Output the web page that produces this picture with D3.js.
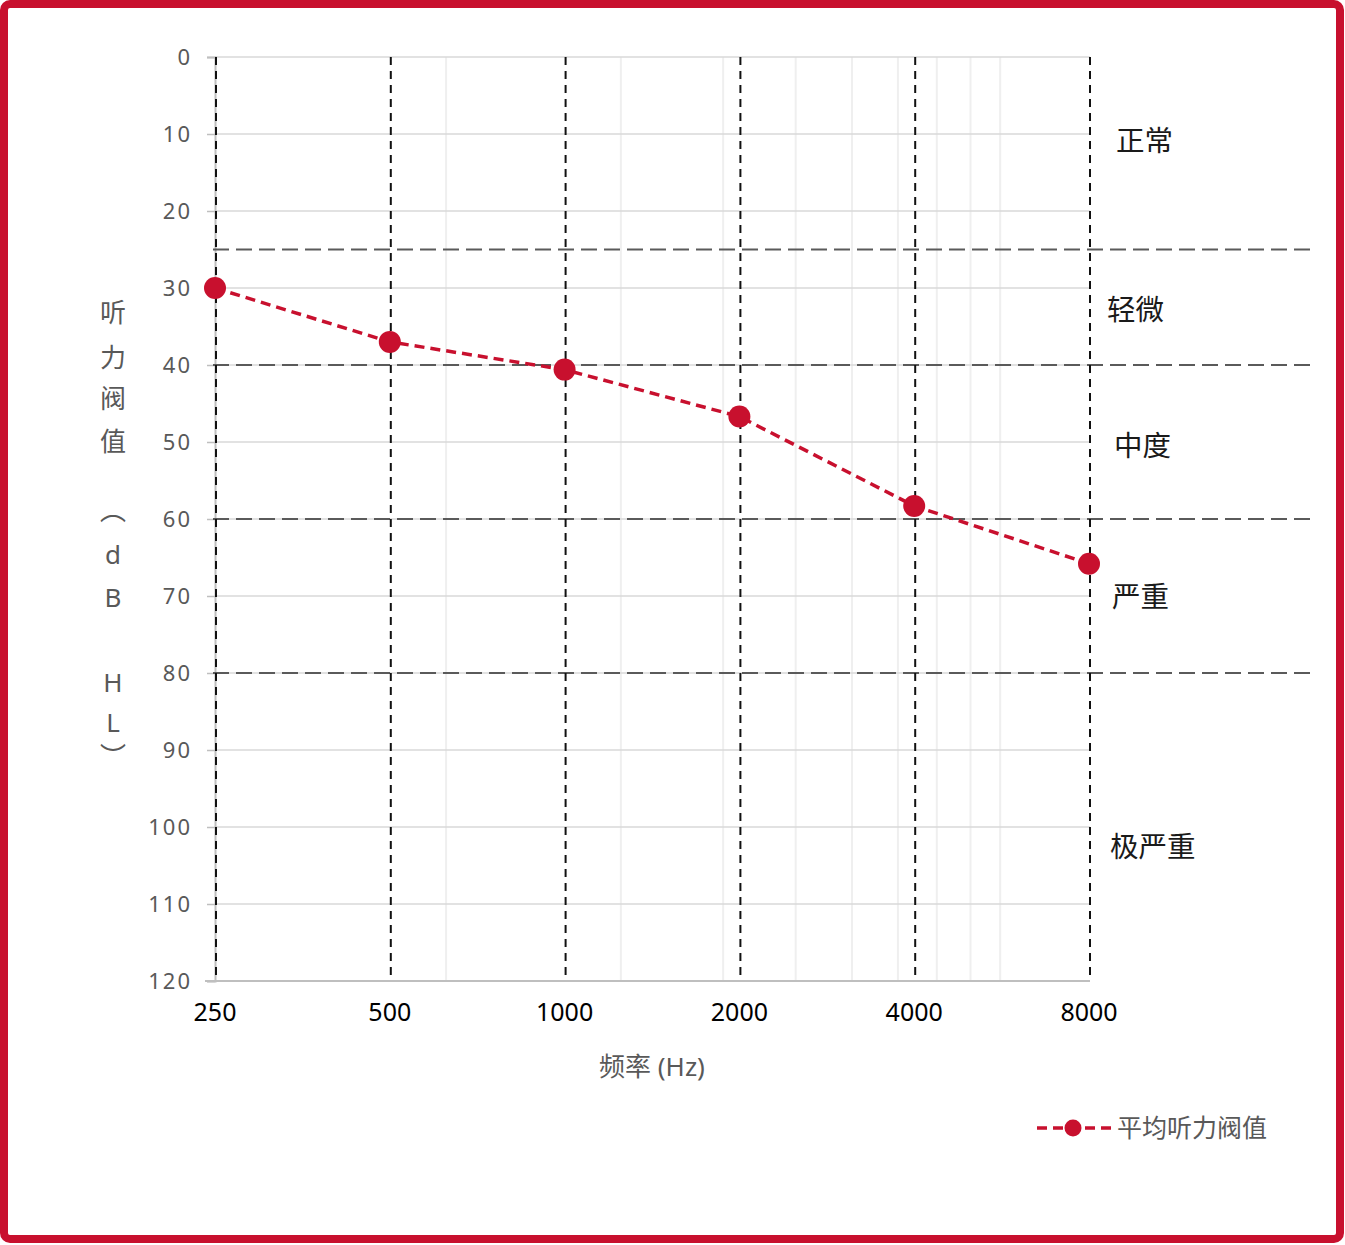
<!DOCTYPE html>
<html>
<head>
<meta charset="utf-8">
<script src="https://cdn.jsdelivr.net/npm/d3@7"></script>
<style>
  body{margin:0;background:#fff;}
  text{font-family:"Noto Sans","Noto Sans CJK SC",sans-serif;}
</style>
</head>
<body>
<div id="container"></div>
<script>
let w=1345;
let h=1245;

// data
let freqs=[250,500,1000,2000,4000,8000];
let freqLabels=["250","500","1000","2000","4000","8000"];
let thresholds=[30,37,40.6,46.7,58.3,65.8];
let yTicks=[0,10,20,30,40,50,60,70,80,90,100,110,120];
let minorFreqs=[625,1250,1875,2500,3125,3750,4375,5000,5625];
let bandLines=[25,40,60,80];
let bandNames=["正常","轻微","中度","严重","极严重"];
let bandLabelDb=[10.9,32.8,50.5,70.1,102.6];
let bandLabelX=[1116,1107,1114,1112,1110];
let yTitleChars=["听","力","阀","值","︵","d","B","H","L","︶"];
let yTitleDb=[33.2,39,44.4,49.9,58.9,64.6,70.2,81.2,86.5,90.8];
let seriesName="平均听力阀值";

let red="#c8102e";

let x=d3.scaleLog().base(2).domain([250,8000]).range([215,1089]);
let y=d3.scaleLinear().domain([0,120]).range([57,981]);

let viz=d3.select("#container")
  .append("svg")
  .attr("width",w)
  .attr("height",h);

// frame
viz.append("rect")
  .attr("x",4).attr("y",4)
  .attr("width",w-9).attr("height",h-10)
  .attr("rx",6)
  .attr("fill","white")
  .attr("stroke",red)
  .attr("stroke-width",8);

// minor vertical grid
viz.selectAll(".minor").data(minorFreqs).enter()
  .append("line")
  .attr("class","minor")
  .attr("x1",d=>x(d)).attr("x2",d=>x(d))
  .attr("y1",y(0)).attr("y2",y(120))
  .attr("stroke","#efefef")
  .attr("stroke-width",2);

// horizontal grid
viz.selectAll(".hgrid").data(yTicks).enter()
  .append("line")
  .attr("class","hgrid")
  .attr("x1",215).attr("x2",1090)
  .attr("y1",d=>y(d)).attr("y2",d=>y(d))
  .attr("stroke","#d9d9d9")
  .attr("stroke-width",1.5);

// y axis
let yAxis=d3.axisLeft(y).tickValues(yTicks).tickSize(8).tickPadding(15);
let yg=viz.append("g").attr("transform","translate(215,0)").call(yAxis);
yg.select(".domain").attr("stroke","#bfbfbf").attr("stroke-width",2);
yg.selectAll(".tick line").attr("stroke","#bfbfbf").attr("stroke-width",1.5);
yg.selectAll(".tick text")
  .attr("fill","#595959")
  .attr("font-size",22)
  .attr("letter-spacing","2px")
  .attr("font-family","Noto Sans");

// x axis line
viz.append("line")
  .attr("x1",205).attr("x2",1090)
  .attr("y1",y(120)).attr("y2",y(120))
  .attr("stroke","#bfbfbf")
  .attr("stroke-width",2);

// x labels
viz.selectAll(".xlab").data(freqs).enter()
  .append("text")
  .attr("class","xlab")
  .text((d,i)=>freqLabels[i])
  .attr("x",d=>x(d))
  .attr("y",1021)
  .attr("text-anchor","middle")
  .attr("font-size",25)
  .attr("fill","#000");

// band threshold lines
viz.selectAll(".band").data(bandLines).enter()
  .append("line")
  .attr("class","band")
  .attr("x1",213).attr("x2",1311)
  .attr("y1",d=>y(d)).attr("y2",d=>y(d))
  .attr("stroke","#5a5a5a")
  .attr("stroke-width",2)
  .attr("stroke-dasharray","16,7");

// vertical dashed lines
viz.selectAll(".vdash").data(freqs).enter()
  .append("line")
  .attr("class","vdash")
  .attr("x1",d=>x(d)+1).attr("x2",d=>x(d)+1)
  .attr("y1",y(0)).attr("y2",y(120))
  .attr("stroke","#111")
  .attr("stroke-width",2)
  .attr("stroke-dasharray","8,6");

// series
let line=d3.line().x((d,i)=>x(freqs[i])).y(d=>y(d));
viz.append("path")
  .datum(thresholds)
  .attr("d",line)
  .attr("fill","none")
  .attr("stroke",red)
  .attr("stroke-width",3.5)
  .attr("stroke-dasharray","10,6");
viz.selectAll(".dot").data(thresholds).enter()
  .append("circle")
  .attr("class","dot")
  .attr("cx",(d,i)=>x(freqs[i]))
  .attr("cy",d=>y(d))
  .attr("r",11)
  .attr("fill",red);

// band names
viz.selectAll(".bandname").data(bandNames).enter()
  .append("text")
  .attr("class","bandname")
  .text(d=>d)
  .attr("x",(d,i)=>bandLabelX[i])
  .attr("y",(d,i)=>y(bandLabelDb[i]))
  .attr("dy","0.36em")
  .attr("font-family","Noto Sans CJK SC")
  .attr("font-size",28.5)
  .attr("fill","#1a1a1a");

// y title (stacked)
viz.selectAll(".ytitle").data(yTitleChars).enter()
  .append("text")
  .attr("class","ytitle")
  .text(d=>d)
  .attr("x",113)
  .attr("y",(d,i)=>y(yTitleDb[i]))
  .attr("dy","0.36em")
  .attr("text-anchor","middle")
  .attr("font-family","Noto Sans CJK SC")
  .attr("font-size",26)
  .attr("fill","#595959");

// x title
viz.append("text")
  .text("频率 (Hz)")
  .attr("x",652)
  .attr("y",1076)
  .attr("text-anchor","middle")
  .attr("font-family","Noto Sans CJK SC")
  .attr("font-size",26)
  .attr("fill","#595959");

// legend
let legend=viz.append("g").attr("transform","translate(1037,1128)");
legend.append("line")
  .attr("x1",0).attr("x2",74)
  .attr("stroke",red)
  .attr("stroke-width",3.5)
  .attr("stroke-dasharray","10,6");
legend.append("circle")
  .attr("cx",36).attr("cy",0)
  .attr("r",8.5)
  .attr("fill",red);
legend.append("text")
  .text(seriesName)
  .attr("x",80)
  .attr("y",0)
  .attr("dy","0.36em")
  .attr("font-family","Noto Sans CJK SC")
  .attr("font-size",25)
  .attr("fill","#595959");
</script>
</body>
</html>
